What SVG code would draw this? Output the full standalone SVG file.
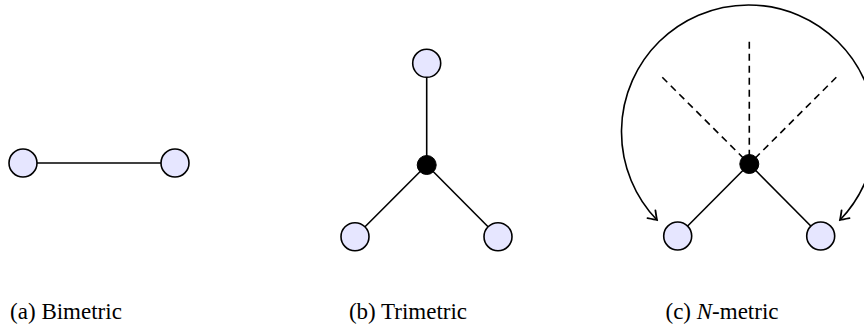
<svg xmlns="http://www.w3.org/2000/svg" width="864" height="330" viewBox="0 0 864 330">
<defs>
<style>
.node{fill:#e6e6ff;stroke:#000;stroke-width:1.6}
.hub{fill:#000;stroke:#000;stroke-width:1}
.edge{stroke:#000;stroke-width:1.6;fill:none}
.dash{stroke:#000;stroke-width:1.6;fill:none;stroke-dasharray:7 5}
.lbl{font-family:"Liberation Serif","DejaVu Serif",serif;font-size:23px;fill:#000;text-anchor:middle}
</style>
<marker id="arr" markerWidth="14" markerHeight="14" refX="0" refY="0" viewBox="-12 -7 14 14" orient="auto-start-reverse" markerUnits="userSpaceOnUse">
<path d="M -8 -5.5 Q -2 -1.2 0 0 Q -2 1.2 -8 5.5" fill="none" stroke="#000" stroke-width="1.8" stroke-linecap="round"/>
</marker>
</defs>
<g id="connectors">
<line class="edge" x1="23" y1="163" x2="175" y2="163"/>
<line class="edge" x1="426.7" y1="165" x2="426.7" y2="63.3"/>
<line class="edge" x1="426.7" y1="165" x2="355" y2="236.7"/>
<line class="edge" x1="426.7" y1="165" x2="498" y2="236.7"/>
<line class="edge" x1="749.3" y1="164" x2="677.7" y2="236"/>
<line class="edge" x1="749.3" y1="164" x2="820.7" y2="236"/>
<line class="dash" x1="749.3" y1="41.7" x2="749.3" y2="164"/>
<line class="dash" x1="662.3" y1="77.3" x2="749.3" y2="164"/>
<line class="dash" x1="836.3" y1="77.3" x2="749.3" y2="164"/>
<path class="edge" d="M 657 220 A 127 127 0 1 1 840 220" marker-start="url(#arr)" marker-end="url(#arr)"/>
</g>
<g id="a1"><circle class="node" cx="23" cy="163" r="14"/></g>
<g id="a2"><circle class="node" cx="175" cy="163" r="14"/></g>
<g id="b_top"><circle class="node" cx="426.7" cy="63.3" r="14"/></g>
<g id="b_hub"><circle class="hub" cx="426.7" cy="165" r="9.5"/></g>
<g id="b_left"><circle class="node" cx="355" cy="236.7" r="14"/></g>
<g id="b_right"><circle class="node" cx="498" cy="236.7" r="14"/></g>
<g id="c_hub"><circle class="hub" cx="749.3" cy="164" r="9.5"/></g>
<g id="c_left"><circle class="node" cx="677.7" cy="236" r="14"/></g>
<g id="c_right"><circle class="node" cx="820.7" cy="236" r="14"/></g>
<text class="lbl" x="66" y="319">(a) Bimetric</text>
<text class="lbl" x="408" y="319">(b) Trimetric</text>
<text class="lbl" x="722" y="319">(c) <tspan font-style="italic">N</tspan>-metric</text>
</svg>
